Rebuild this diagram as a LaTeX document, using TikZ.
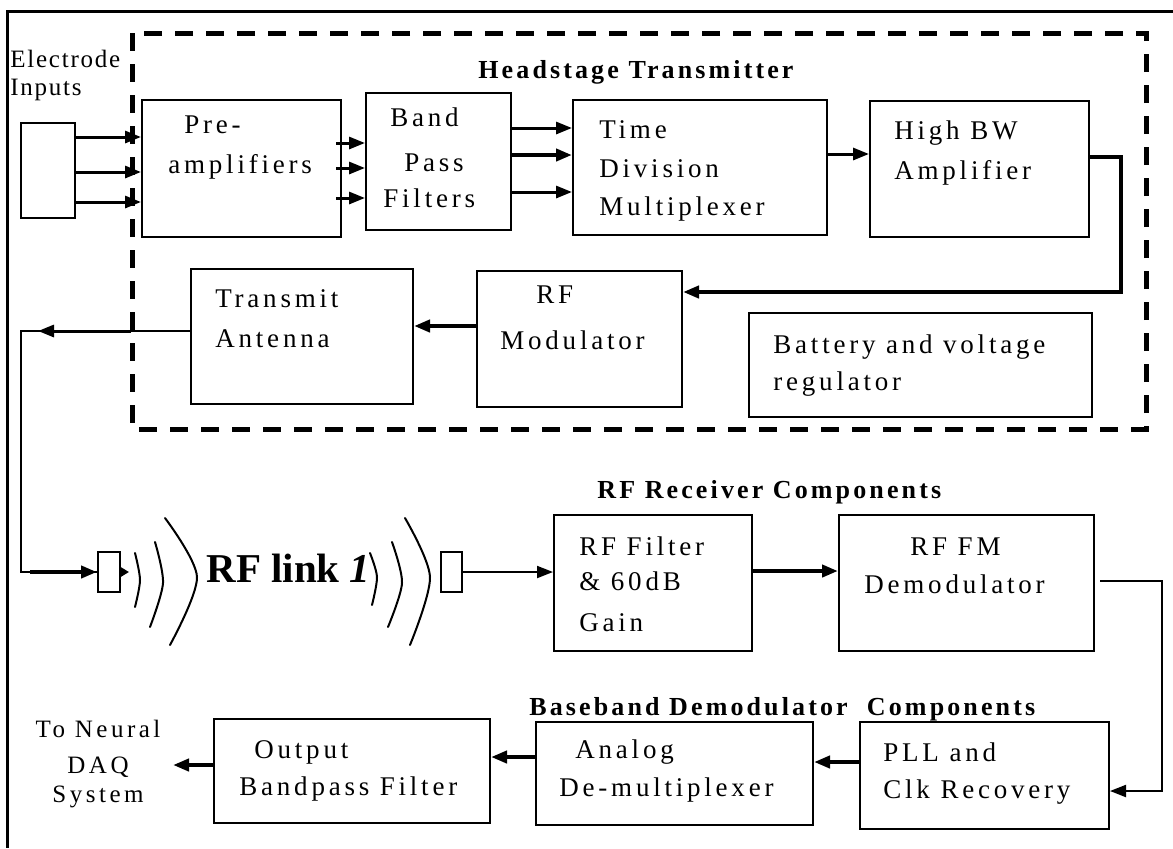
\documentclass[tikz,border=0pt]{standalone}
\usepackage{fontspec}
\setmainfont{Liberation Serif}
\newfontfamily\boxfont[LetterSpace=14]{Liberation Serif}
\newfontfamily\smallfont[LetterSpace=7]{Liberation Serif}
\newfontfamily\titlefont[LetterSpace=12]{Liberation Serif}
\usetikzlibrary{arrows.meta,fit}
\begin{document}
\begin{tikzpicture}[x=0.5pt,y=-0.5pt,
  blk/.style={draw, line width=1pt, inner sep=0pt, fit={#1}},
  lbl/.style={anchor=base west, inner sep=0pt, font=\boxfont\fontsize{13.5}{16}\selectfont},
  clbl/.style={anchor=base, inner sep=0pt, font=\boxfont\fontsize{12.5}{15}\selectfont},
  elbl/.style={anchor=base west, inner sep=0pt, font=\smallfont\fontsize{12.5}{15}\selectfont},
  ttl/.style={anchor=base west, inner sep=0pt, font=\titlefont\bfseries\fontsize{13}{16}\selectfont},
  tip/.style={-{Triangle[length=8pt,width=6pt]}},
  thinw/.style={line width=1pt},
  medw/.style={line width=1.5pt},
  thickw/.style={line width=2pt},
  wave/.style={line width=1pt, line cap=round},
  frame/.style={line width=1.5pt},
  dashbox/.style={line width=2.5pt, dash pattern=on 9pt off 6.5pt}
]
\useasboundingbox (0,0) rectangle (1173,848);
% page frame
\draw[frame] (1173,11) -- (7,11) -- (7,848);
% headstage dashed box
\draw[dashbox] (132,33) rectangle (1146,429);

% labels outside
\node[elbl] (elecT) at (10,67) {Electrode};
\node[elbl] (inpT) at (10,95) {Inputs};
\node[ttl] (hsT) at (478,78) {Headstage Transmitter};

% boxes
\node[blk={(21,123)(75,218)}] (elec) {};
\node[blk={(142,100)(341,237)}] (pre) {};
\node[blk={(366,93)(511,230)}] (bpf) {};
\node[blk={(573,100)(827,235)}] (tdm) {};
\node[blk={(870,101)(1089,237)}] (hbw) {};
\node[blk={(477,271)(682,407)}] (rfm) {};
\node[blk={(191,269)(413,404)}] (ta) {};
\node[blk={(749,313)(1092,417)}] (bat) {};
\node[blk={(98,552)(120,592)}] (antL) {};
\node[blk={(441,552)(462,592)}] (antR) {};
\node[blk={(554,515)(752,651)}] (rff) {};
\node[blk={(839,515)(1094,651)}] (fm) {};
\node[blk={(860,722)(1109,829)}] (pll) {};
\node[blk={(536,722)(813,825)}] (ana) {};
\node[blk={(214,719)(490,823)}] (obf) {};

% box texts
\node[lbl] (preT1) at (184,133) {Pre-};
\node[lbl] (preT2) at (168,173) {amplifiers};
\node[lbl] (bpfT1) at (390,126) {Band};
\node[lbl] (bpfT2) at (404,171) {Pass};
\node[lbl] (bpfT3) at (383,207) {Filters};
\node[lbl] (tdmT1) at (599,138) {Time};
\node[lbl] (tdmT2) at (599,177) {Division};
\node[lbl] (tdmT3) at (599,215) {Multiplexer};
\node[lbl] (hbwT1) at (894,139) {High BW};
\node[lbl] (hbwT2) at (894,179) {Amplifier};
\node[lbl] (rfmT1) at (536,303) {RF};
\node[lbl] (rfmT2) at (500,349) {Modulator};
\node[lbl] (taT1) at (215,307) {Transmit};
\node[lbl] (taT2) at (215,347) {Antenna};
\node[lbl] (batT1) at (773,353) {Battery and voltage};
\node[lbl] (batT2) at (773,390) {regulator};

\node[ttl] (rxT) at (597,498) {RF Receiver Components};
\node[lbl] (rffT1) at (579,555) {RF Filter};
\node[lbl] (rffT2) at (579,590) {\& 60dB};
\node[lbl] (rffT3) at (579,631) {Gain};
\node[lbl] (fmT1) at (910,555) {RF FM};
\node[lbl] (fmT2) at (864,593) {Demodulator};

\node[ttl] (bbT) at (529,715) {Baseband Demodulator\ \ Components};
\node[lbl] (pllT1) at (883,761) {PLL and};
\node[lbl] (pllT2) at (883,798) {Clk Recovery};
\node[lbl] (anaT1) at (575,758) {Analog};
\node[lbl] (anaT2) at (559,796) {De-multiplexer};
\node[lbl] (obfT1) at (254,758) {Output};
\node[lbl] (obfT2) at (239,795) {Bandpass Filter};
\node[clbl] (daqT1) at (98,737) {To Neural};
\node[clbl] (daqT2) at (98,773) {DAQ};
\node[clbl] (daqT3) at (98,802) {System};

% RF link
\node[anchor=base west, inner sep=0pt, font=\bfseries\fontsize{20.5}{24}\selectfont] (rfl) at (206,582) {RF link \itshape 1};

% arrows: electrodes -> preamps
\foreach \yy in {137,172,202} \draw[tip, medw] (elec.east |- 0,\yy) -- (pre.west |- 0,\yy);
% preamps -> BPF
\foreach \yy in {143,168,198} \draw[tip, medw] ([xshift=-3pt]pre.east |- 0,\yy) -- (bpf.west |- 0,\yy);
% BPF -> TDM
\draw[tip, medw] (bpf.east |- 0,128) -- (tdm.west |- 0,128);
\draw[tip, thickw] (bpf.east |- 0,155) -- (tdm.west |- 0,155);
\draw[tip, medw] (bpf.east |- 0,192) -- (tdm.west |- 0,192);
% TDM -> HBW
\draw[tip, medw] (tdm.east |- 0,154) -- (hbw.west |- 0,154);
% HBW -> RF modulator
\draw[tip, thickw] (hbw.east |- 0,157) -- ++(31,0) |- (rfm.east |- 0,292);
% RF mod -> transmit antenna
\draw[tip, thickw] (rfm.west |- 0,326) -- (ta.east |- 0,326);
% transmit antenna -> RF link
\draw[thinw] (ta.west |- 0,331) -- ++(-169,0) |- (antL.west);
\draw[tip, medw] (ta.west |- 0,331) ++(-59,0) -- ++(-93,0);
\draw[tip, thickw] (antL.west) ++(-67,0) -- (antL.west);
\draw[-{Triangle[length=4pt,width=4.5pt]}, thinw] (antL.east) -- ++(8,0);
% RF waves
\draw[wave] plot[smooth] coordinates {(135,553) (140,580) (135,607)};
\draw[wave] plot[smooth] coordinates {(155,542) (163,583) (150,627)};
\draw[wave] plot[smooth] coordinates {(165,518) (197,577) (170,645)};
\draw[wave] plot[smooth] coordinates {(370,553) (377,577) (372,605)};
\draw[wave] plot[smooth] coordinates {(392,542) (402,583) (388,627)};
\draw[wave] plot[smooth] coordinates {(405,518) (430,577) (410,645)};
% receiver chain
\draw[tip, thinw] (antR.east) -- (rff.west |- antR.east);
\draw[tip, thickw] (rff.east |- 0,571) -- (fm.west |- 0,571);
\draw[tip, thinw] ([xshift=2.5pt]fm.east |- 0,581) -- ++(62,0) |- (pll.east |- 0,791);
\draw[tip, thickw] (pll.west |- 0,762) -- (ana.east |- 0,762);
\draw[tip, thickw] (ana.west |- 0,757) -- (obf.east |- 0,757);
\draw[tip, thickw] (obf.west |- 0,765) -- ++(-40,0);
\end{tikzpicture}
\end{document}
